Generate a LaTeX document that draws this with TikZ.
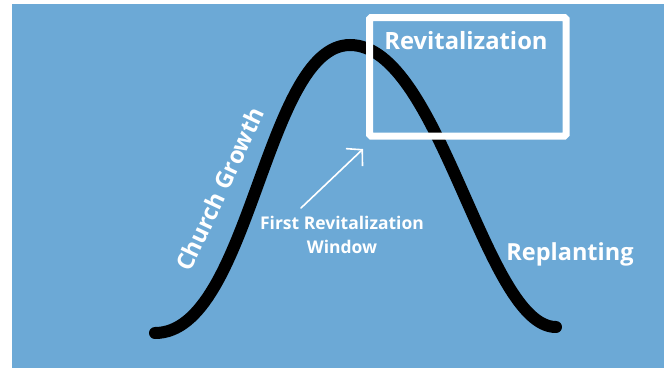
\documentclass[tikz,border=0pt]{standalone}
\usepackage{fontspec}
\setmainfont{Open Sans}
\usepackage{tikz}
\usetikzlibrary{positioning, arrows.meta, calc}

\definecolor{skyblue}{RGB}{108,169,214}

\begin{document}
\begin{tikzpicture}[x=1pt, y=-1pt,
        label/.style={text=white, font=\bfseries, inner sep=0pt},
        bell/.style={black, line width=12pt, line cap=round},
        frame/.style={white, line width=7pt, rounded corners=1.5pt},
        pointer/.style={white, line width=1.6pt, line cap=round, -{Straight Barb[length=11pt, width=24pt]}}
    ]
        % page and background
        \useasboundingbox (0,0) rectangle (667,368);
        \fill[white] (0,0) rectangle (667,368);
        \fill[skyblue] (12,4) rectangle (664,368);

        \coordinate (start) at (155,333);
        \coordinate (top) at (350,45);
        \coordinate (end) at (556,327);

        % the curve
        \draw[bell] (start) .. controls (250,333) and (265,45) .. (top)
            .. controls (440,45) and (485,327) .. (end);

        % window box
        \draw[frame] (369.5,17.5) rectangle (566,136);
        \node[label, font=\bfseries\fontsize{23.8}{28}\selectfont] (revit) at (466,41) {Revitalization};

        % labels
        \node[label, font=\bfseries\fontsize{23.5}{28}\selectfont, rotate=65] (growth) at (220,189) {Church Growth};
        \node[label, font=\bfseries\fontsize{23.5}{28}\selectfont] (replant) at (570,254) {Replanting};
        \node[label, font=\bfseries\fontsize{17.5}{24}\selectfont, align=center] (first) at (342,235) {First Revitalization\\Window};

        % arrow to the window
        \coordinate (tail) at (301,208);
        \coordinate (tip) at (363,149);
        \draw[pointer] (tail) -- (tip);
    \end{tikzpicture}
\end{document}
